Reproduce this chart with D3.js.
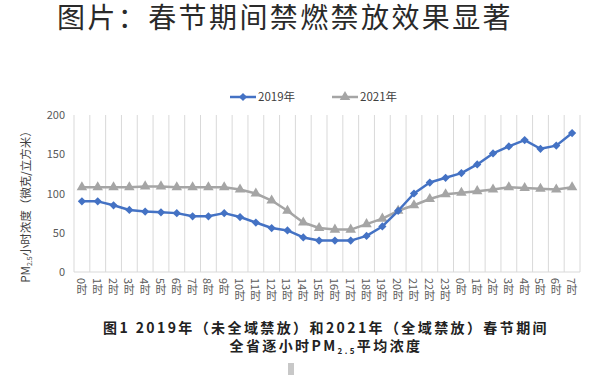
<!DOCTYPE html>
<html>
<head>
<meta charset="utf-8">
<script src="https://cdn.jsdelivr.net/npm/d3@7"></script>
<style>
  body { margin: 0; background: #fff; }
  svg { display: block; }
  text { font-family: "Noto Sans CJK SC", "Noto Sans", sans-serif; }
</style>
</head>
<body>
<svg id="chart" width="600" height="375"></svg>
<script>
// hour labels along the x axis (two days)
var hours = ["0时","1时","2时","3时","4时","5时","6时","7时","8时","9时","10时","11时",
  "12时","13时","14时","15时","16时","17时","18时","19时","20时","21时","22时","23时",
  "0时","1时","2时","3时","4时","5时","6时","7时"];
var series2019 = [90,90,85,79,77,76,75,71,71,75,70,63,56,53,44,40,40,40,46,58,78,100,114,120,
  126,137,151,160,168,157,161,177];
var series2021 = [108,108,108,108,109,109,108,108,108,108,105,100,91,78,63,56,54,54,61,68,78,85,93,99,
  101,103,105,108,107,106,105,108];
var yTicks = [0,50,100,150,200];
var seriesNames = ["2019年","2021年"];

var svg = d3.select("#chart");

var x = d3.scaleBand().domain(d3.range(hours.length)).range([74, 580]);
var y = d3.scaleLinear().domain([0, 200]).range([272, 115]);
var cx = function(i){ return x(i) + x.bandwidth()/2; };

// title
svg.append("text")
  .attr("x", 57).attr("y", 28)
  .attr("font-size", 28)
  .attr("letter-spacing", 2.4)
  .attr("fill", "#2a2a2a")
  .text("图片：春节期间禁燃禁放效果显著");

// vertical gridlines between categories
var bounds = d3.range(hours.length).map(function(i){ return x(i); });
bounds.push(x.range()[1]);
svg.append("g").selectAll("line")
  .data(bounds)
  .enter().append("line")
  .attr("x1", function(d){ return d; }).attr("x2", function(d){ return d; })
  .attr("y1", y(200)).attr("y2", y(0))
  .attr("stroke", "#d9d9d9").attr("stroke-width", 1);

// bottom axis line
svg.append("line")
  .attr("x1", x.range()[0]).attr("x2", x.range()[1])
  .attr("y1", y(0)).attr("y2", y(0))
  .attr("stroke", "#d9d9d9");

// y axis
var yAxis = svg.append("g")
  .attr("transform", "translate(" + x.range()[0] + ",0)")
  .call(d3.axisLeft(y).tickValues(yTicks).tickSize(0).tickPadding(9));
yAxis.select(".domain").remove();
yAxis.selectAll("text")
  .attr("font-family", "'Liberation Sans', sans-serif")
  .attr("font-size", 11)
  .attr("fill", "#595959");

// y axis title
var yt = svg.append("text")
  .attr("transform", "translate(30,204) rotate(-90)")
  .attr("text-anchor", "middle")
  .attr("font-size", 11.5)
  .attr("fill", "#404040");
yt.append("tspan").text("PM");
yt.append("tspan").attr("font-size", 7).attr("dy", 2).text("2.5");
yt.append("tspan").attr("dy", -2).text("小时浓度（微克/立方米）");

// x labels, vertical writing
svg.append("g").selectAll("text")
  .data(hours)
  .enter().append("text")
  .attr("x", function(d, i){ return cx(i); })
  .attr("y", 278)
  .style("writing-mode", "vertical-rl")
  .style("text-orientation", "mixed")
  .attr("font-size", 11)
  .attr("fill", "#595959")
  .text(function(d){ return d; });

var line = d3.line()
  .x(function(d, i){ return cx(i); })
  .y(function(d){ return y(d); });

var diamond = d3.symbol(d3.symbolSquare, 34);
var triangle = d3.symbol(d3.symbolTriangle, 48);

function drawSeries(data, color, sym, rot){
  var g = svg.append("g");
  g.append("path")
    .datum(data)
    .attr("d", line)
    .attr("fill", "none")
    .attr("stroke", color)
    .attr("stroke-width", 2.5)
    .attr("stroke-linejoin", "round");
  g.selectAll("path.m")
    .data(data)
    .enter().append("path")
    .attr("class", "m")
    .attr("d", sym)
    .attr("fill", color)
    .attr("transform", function(d, i){
      return "translate(" + cx(i) + "," + y(d) + ") rotate(" + rot + ")";
    });
}

drawSeries(series2021, "#a5a5a5", triangle, 0);
drawSeries(series2019, "#4472c4", diamond, 45);

// legend
var legend = [
  {name: seriesNames[0], color: "#4472c4", sym: diamond, rot: 45, x: 230},
  {name: seriesNames[1], color: "#a5a5a5", sym: triangle, rot: 0, x: 332}
];
var lg = svg.append("g").selectAll("g")
  .data(legend)
  .enter().append("g")
  .attr("transform", function(d){ return "translate(" + d.x + ",97)"; });
lg.append("line")
  .attr("x1", 0).attr("x2", 26)
  .attr("stroke", function(d){ return d.color; })
  .attr("stroke-width", 2.5);
lg.append("path")
  .attr("d", function(d){ return d.sym(); })
  .attr("transform", function(d){ return "translate(13,0) rotate(" + d.rot + ")"; })
  .attr("fill", function(d){ return d.color; });
lg.append("text")
  .attr("x", 28).attr("y", 4)
  .attr("font-size", 11.5)
  .attr("fill", "#404040")
  .text(function(d){ return d.name; });

// caption
var cap = svg.append("g")
  .attr("font-size", 14)
  .attr("font-weight", "bold")
  .attr("fill", "#222")
  .attr("letter-spacing", 2.4)
  .attr("text-anchor", "middle");
cap.append("text")
  .attr("x", 326).attr("y", 333)
  .text("图1 2019年（未全域禁放）和2021年（全域禁放）春节期间");
var c2 = cap.append("text")
  .attr("x", 326).attr("y", 351);
c2.append("tspan").text("全省逐小时PM");
c2.append("tspan").attr("font-size", 8).attr("dy", 3).text("2.5");
c2.append("tspan").attr("dy", -3).text("平均浓度");

// small grey mark under the caption
svg.append("rect")
  .attr("x", 288).attr("y", 363)
  .attr("width", 6).attr("height", 12)
  .attr("fill", "#c8c8c8");
</script>
</body>
</html>
